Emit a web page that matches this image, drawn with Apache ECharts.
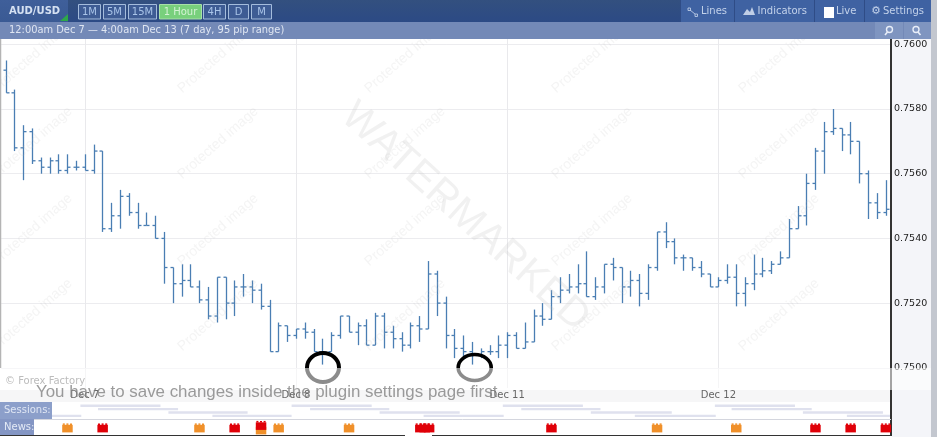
<!DOCTYPE html>
<html><head><meta charset="utf-8">
<style>html,body{margin:0;padding:0;background:#fff}#c{width:937px;height:437px}</style>
<script src="https://cdn.jsdelivr.net/npm/echarts@6/dist/echarts.min.js"></script>
</head><body><div id="c"></div>
<script>
// hourly AUD/USD bars, oldest first
const opens=[0.7592,0.7585,0.7568,0.7573,0.7564,0.7562,0.7564,0.7561,0.7562,0.7562,0.7561,0.7567,0.7543,0.7547,0.7553,0.7548,0.7544,0.7544,0.7540,0.7531,0.7526,0.7527,0.7525,0.7521,0.7516,0.7528,0.7520,0.7525,0.7525,0.7524,0.7519,0.7505,0.7513,0.7510,0.7512,0.7511,0.7505,0.7505,0.7510,0.7516,0.7511,0.7513,0.7507,0.7516,0.7511,0.7509,0.7507,0.7513,0.7512,0.7529,0.7520,0.7510,0.7506,0.7505,0.7504,0.7505,0.7505,0.7507,0.7510,0.7506,0.7508,0.7516,0.7515,0.7522,0.7524,0.7525,0.7526,0.7522,0.7525,0.7532,0.7531,0.7525,0.7527,0.7523,0.7531,0.7542,0.7539,0.7534,0.7534,0.7531,0.7529,0.7525,0.7527,0.7528,0.7523,0.7526,0.7529,0.7530,0.7532,0.7534,0.7543,0.7547,0.7557,0.7567,0.7573,0.7574,0.7572,0.7570,0.7560,0.7551,0.7548];
const highs=[0.7595,0.7586,0.7575,0.7574,0.7565,0.7565,0.7566,0.7566,0.7564,0.7566,0.7569,0.7567,0.7551,0.7555,0.7554,0.7551,0.7548,0.7547,0.7542,0.7531,0.7532,0.7532,0.7527,0.7525,0.7528,0.7528,0.7527,0.7529,0.7527,0.7526,0.7521,0.7514,0.7513,0.7512,0.7514,0.7512,0.7509,0.7511,0.7516,0.7516,0.7514,0.7515,0.7517,0.7517,0.7513,0.7511,0.7514,0.7516,0.7533,0.7530,0.7522,0.7512,0.7510,0.7508,0.7506,0.7507,0.7510,0.7511,0.7511,0.7514,0.7518,0.7520,0.7524,0.7528,0.7529,0.7532,0.7536,0.7528,0.7532,0.7534,0.7531,0.7530,0.7529,0.7532,0.7542,0.7545,0.7540,0.7535,0.7534,0.7533,0.7529,0.7528,0.7532,0.7532,0.7528,0.7535,0.7534,0.7533,0.7536,0.7546,0.7550,0.7560,0.7568,0.7576,0.7580,0.7574,0.7576,0.7570,0.7561,0.7554,0.7558];
const lows=[0.7585,0.7567,0.7558,0.7563,0.7560,0.7560,0.7560,0.7560,0.7561,0.7561,0.7560,0.7542,0.7542,0.7543,0.7547,0.7543,0.7544,0.7540,0.7526,0.7520,0.7522,0.7525,0.7520,0.7515,0.7514,0.7515,0.7516,0.7522,0.7520,0.7518,0.7505,0.7505,0.7508,0.7509,0.7509,0.7505,0.7501,0.7505,0.7509,0.7511,0.7507,0.7507,0.7507,0.7506,0.7506,0.7505,0.7506,0.7508,0.7512,0.7516,0.7506,0.7503,0.7503,0.7501,0.7503,0.7504,0.7503,0.7503,0.7506,0.7506,0.7508,0.7513,0.7515,0.7520,0.7523,0.7523,0.7522,0.7521,0.7523,0.7527,0.7520,0.7522,0.7519,0.7521,0.7530,0.7537,0.7532,0.7530,0.7530,0.7528,0.7525,0.7525,0.7526,0.7519,0.7519,0.7524,0.7528,0.7529,0.7532,0.7534,0.7543,0.7544,0.7555,0.7560,0.7572,0.7567,0.7566,0.7557,0.7546,0.7546,0.7547];
const closes=[0.7585,0.7568,0.7573,0.7564,0.7562,0.7564,0.7561,0.7562,0.7562,0.7561,0.7567,0.7543,0.7547,0.7553,0.7548,0.7544,0.7544,0.7540,0.7531,0.7526,0.7527,0.7525,0.7521,0.7516,0.7528,0.7520,0.7525,0.7525,0.7524,0.7519,0.7505,0.7513,0.7510,0.7512,0.7511,0.7505,0.7505,0.7510,0.7516,0.7511,0.7513,0.7507,0.7516,0.7511,0.7509,0.7507,0.7513,0.7512,0.7529,0.7520,0.7510,0.7506,0.7505,0.7504,0.7505,0.7505,0.7507,0.7510,0.7506,0.7508,0.7516,0.7515,0.7522,0.7524,0.7525,0.7526,0.7522,0.7525,0.7532,0.7531,0.7525,0.7527,0.7523,0.7531,0.7542,0.7539,0.7534,0.7534,0.7531,0.7529,0.7525,0.7527,0.7528,0.7523,0.7526,0.7529,0.7530,0.7532,0.7534,0.7543,0.7547,0.7557,0.7567,0.7573,0.7574,0.7572,0.7570,0.7560,0.7551,0.7548,0.7549];
const priceTicks=[0.7500,0.7520,0.7540,0.7560,0.7580,0.7600];
const dayTickHours=[9,33,57,81];
const dayTickLabels=['Dec 7','Dec 8','Dec 11','Dec 12'];
// sessions: [start hour, end hour, row]
const sessionStarts=[-0.5,8.5,10.5,18.5,23.5,32.5,34.6,42.5,47.5,56.5,58.6,66.5,71.5,80.6,82.5,90.6,95.6];
const sessionEnds=[8.6,17.6,19.6,27.5,32.5,41.6,43.6,51.6,56.6,65.6,67.6,75.7,80.7,89.7,91.6,99.7,100.5];
const sessionRows=[3,0,1,2,3,0,1,2,3,0,1,2,3,0,1,2,3];
// news: hour, impact, vertical lift
const newsHours=[7,11,22,26,31,29,29,39,47.1,47.6,48.1,62,74,83,92,96,100];
const newsImpact=['med','high','med','high','med','med','high','med','high','high','high','high','med','med','high','high','high'];
const newsLift=[0,0,0,0,0,-2,2.5,0,0,0,0,0,0,0,0,0,0];

const ohlc=opens.map((o,i)=>[i,o,highs[i],lows[i],closes[i]]);
const sess=sessionStarts.map((s,i)=>[s,sessionEnds[i],sessionRows[i]]);
const news=newsHours.map((h,i)=>[h,0.5,newsImpact[i]==='high'?1:0,newsLift[i]]);

const BAR='#4a7eb3';
function renderBar(p,api){
  const i=api.value(0),x=Math.round(api.coord([i,0.75])[0])+0.5;
  const yo=api.coord([i,api.value(1)])[1],yh=api.coord([i,api.value(2)])[1],
        yl=api.coord([i,api.value(3)])[1],yc=api.coord([i,api.value(4)])[1];
  const st={stroke:BAR,lineWidth:1.3};
  return {type:'group',children:[
    {type:'line',shape:{x1:x,y1:yh,x2:x,y2:yl},style:st},
    {type:'line',shape:{x1:x-3,y1:yo,x2:x,y2:yo},style:st},
    {type:'line',shape:{x1:x,y1:yc,x2:x+3,y2:yc},style:st}
  ]};
}
function renderSession(p,api){
  const a=api.coord([api.value(0),api.value(2)+0.5]),b=api.coord([api.value(1),api.value(2)+0.5]);
  return {type:'rect',shape:{x:a[0],y:a[1]-1.2,width:b[0]-a[0],height:2.4},style:{fill:'#dfe1ee'}};
}
function renderNews(p,api){
  const c=api.coord([api.value(0),api.value(1)]),hi=api.value(2)===1,lift=api.value(3);
  const x=c[0]-5,y=c[1]-3-lift,f=hi?'#e00008':'#f0902a',kids=[];
  kids.push({type:'rect',shape:{x:x,y:y,width:10.5,height:7.6},style:{fill:f}});
  [0.6,4.2,7.8].forEach(d=>kids.push({type:'rect',shape:{x:x+d,y:y-1.4,width:2,height:1.5},style:{fill:f}}));
  return {type:'group',children:kids};
}

const SANS='"DejaVu Sans"';
const g=[];
function rect(x,y,w,h,fill,z){g.push({type:'rect',z:z,silent:true,shape:{x,y,width:w,height:h},style:{fill}});}
function txt(s,x,y,size,fill,z,extra){g.push(Object.assign({type:'text',z:z,silent:true,x,y,style:{text:s,fill,font:size+'px '+SANS,textVerticalAlign:'middle'}},extra||{}));}
function ln(x1,y1,x2,y2,stroke,w,z){g.push({type:'line',z:z,silent:true,shape:{x1,y1,x2,y2},style:{stroke,lineWidth:w}});}
const grad=(a,b)=>({type:'linear',x:0,y:0,x2:0,y2:1,colorStops:[{offset:0,color:a},{offset:1,color:b}]});

// underlays
rect(892,39,39,398,'#f4f5f9',-1);
rect(0,390,891,12,'#f6f6f7',-1);
// watermarks
[32,218,405,592,779].forEach(x=>[57,143,230,315].forEach(y=>{
  g.push({type:'text',z:10,silent:true,x,y,rotation:0.72,style:{text:'Protected image',fill:'rgba(190,190,190,0.17)',font:'14px "Liberation Sans"',textAlign:'center',textVerticalAlign:'middle'}});
}));
g.push({type:'text',z:10,silent:true,x:465,y:217,rotation:-0.735,style:{text:'WATERMARKED',fill:'rgba(190,190,190,0.22)',font:'41px "Liberation Sans"',textAlign:'center',textVerticalAlign:'middle'}});
// circles
g.push({type:'ellipse',z:15,silent:true,shape:{cx:323,cy:367.5,rx:16,ry:14.5},style:{fill:'none',stroke:'#000',lineWidth:4}});
g.push({type:'ellipse',z:15,silent:true,shape:{cx:474.7,cy:367.5,rx:16.5,ry:13},style:{fill:'none',stroke:'#000',lineWidth:3.6}});
// translucent band
rect(0,368,931,22,'rgba(255,255,255,0.55)',20);
txt('© Forex Factory',5,381,10,'#bcbcbc',21);
g.push({type:'text',z:22,silent:true,x:36,y:392.5,style:{text:'You have to save changes inside the plugin settings page first',fill:'rgba(130,130,130,0.8)',font:'16.9px "Liberation Sans"',textVerticalAlign:'middle'}});
// frame
ln(0.5,39,0.5,368,'#b4b4b4',1.5,5);
ln(891,388,891,436,'#333',2,5);
ln(34,419.5,891,419.5,'#d4d6de',1,5);
ln(0,435.5,405,435.5,'#333',1,5);
ln(432,435.5,891,435.5,'#333',1,5);
// side labels
rect(0,402,52,17,'#8c9fca',6);
rect(0,419,34,16,'#8496c4',6);
txt('Sessions:',4,410.5,10,'#dfe6f4',7);
txt('News:',4,427,10,'#e4eaf6',7);
// header
rect(0,0,931,22,grad('#33507f','#2c4a85'),30);
rect(0,22,931,17,'#7389b7',30);
rect(0,0,68,22,grad('#3f5f9a','#3a5a94'),31);
g.push({type:'polygon',z:32,silent:true,shape:{points:[[68,14],[68,21],[60,21]]},style:{fill:'#2ea84a'}});
g.push({type:'text',z:32,silent:true,x:9,y:11.5,style:{text:'AUD/USD',fill:'#d5e1f2',font:'bold 10px '+SANS,textVerticalAlign:'middle'}});
[['1M',78,22],['5M',103,22],['15M',128,28],['1 Hour',159,42],['4H',203,22],['D',228,20],['M',251,20]].forEach(b=>{
  const on=b[0]==='1 Hour';
  g.push({type:'rect',z:32,silent:true,shape:{x:b[1]+0.5,y:4.5,width:b[2],height:14.5},style:{fill:on?'#78d07c':'#3e5c94',stroke:on?'#a8e0a8':'#a4bcdc',lineWidth:1}});
  g.push({type:'text',z:33,silent:true,x:b[1]+b[2]/2+0.5,y:12,style:{text:b[0],fill:on?'#d4f2d4':'#a9c4e8',font:'10px '+SANS,textAlign:'center',textVerticalAlign:'middle'}});
});
rect(680,0,251,22,grad('#3f62a2','#3f62a2'),31);
[680,734,814,864].forEach(x=>ln(x+0.5,0,x+0.5,22,'#2f4c86',1,32));
// Lines icon
g.push({type:'rect',z:33,silent:true,shape:{x:688,y:8,width:2.5,height:2.5},style:{stroke:'#c8d6ec',fill:'none',lineWidth:0.8}});
g.push({type:'rect',z:33,silent:true,shape:{x:695,y:14,width:2.5,height:2.5},style:{stroke:'#c8d6ec',fill:'none',lineWidth:0.8}});
ln(690,10,695,14,'#c8d6ec',0.8,33);
txt('Lines',701,11.5,10,'#c3d2ea',33);
g.push({type:'polygon',z:33,silent:true,shape:{points:[[743,15],[747,9],[750,12],[752,7],[755,15]]},style:{fill:'#c0cee6'}});
txt('Indicators',757.5,11.5,10,'#c3d2ea',33);
rect(824,7,10,11,'#ffffff',33);
txt('Live',836,11.5,10,'#c3d2ea',33);
g.push({type:'text',z:33,silent:true,x:871,y:11.5,style:{text:'⚙',fill:'#c3d2ea',font:'11px '+SANS,textVerticalAlign:'middle'}});
txt('Settings',883,11.5,10,'#c3d2ea',33);
// range row
txt('12:00am Dec 7 — 4:00am Dec 13 (7 day, 95 pip range)',9,30.5,9.9,'#dfe6f2',33);
rect(875,22,28,17,'#7f95c0',31);
rect(904,22,27,17,'#7f95c0',31);
g.push({type:'circle',z:33,silent:true,shape:{cx:889.5,cy:29.5,r:3},style:{fill:'none',stroke:'#e8eef8',lineWidth:1.4}});
ln(887.5,32,885,35,'#e8eef8',1.6,33);
g.push({type:'circle',z:33,silent:true,shape:{cx:916,cy:29.5,r:3},style:{fill:'none',stroke:'#e8eef8',lineWidth:1.4}});
ln(918,32,920.5,35,'#e8eef8',1.6,33);
// right margin
rect(931,0,6,437,'#c3c7cf',40);

const chart=echarts.init(document.getElementById('c'),null,{renderer:'canvas'});
const GL=1.2,GW=888.8;
chart.setOption({
  animation:false,backgroundColor:'#fff',
  grid:[
    {left:GL,top:39,width:GW+1,height:349,containLabel:false},
    {left:GL,top:404,width:GW,height:13.6},
    {left:GL,top:420,width:GW,height:15.6}
  ],
  xAxis:[
    {type:'value',gridIndex:0,min:-0.5,max:100.614,
     axisLine:{show:false},
     axisTick:{show:false,customValues:dayTickHours},
     axisLabel:{customValues:dayTickHours,margin:2,color:'#666',fontFamily:'DejaVu Sans',fontSize:10,
       formatter:v=>dayTickLabels[dayTickHours.indexOf(v)]},
     splitLine:{show:true,lineStyle:{color:'#e9e9ec',width:1}}},
    {type:'value',gridIndex:1,min:-0.5,max:100.5,show:false},
    {type:'value',gridIndex:2,min:-0.5,max:100.5,show:false}
  ],
  yAxis:[
    {type:'value',gridIndex:0,position:'right',min:0.749376,max:0.760164,
     axisLine:{show:true,onZero:false,lineStyle:{color:'#333',width:2}},
     axisTick:{show:false,customValues:priceTicks},
     axisLabel:{customValues:priceTicks,margin:3,color:'#222',fontFamily:'DejaVu Sans',fontSize:9.5,
       formatter:v=>v.toFixed(4)},
     splitLine:{show:true,lineStyle:{color:'#ececef',width:1}}},
    {type:'value',gridIndex:1,min:0,max:4,inverse:true,show:false},
    {type:'value',gridIndex:2,min:0,max:1,show:false}
  ],
  series:[
    {type:'custom',xAxisIndex:0,yAxisIndex:0,z:5,clip:false,renderItem:renderBar,data:ohlc,encode:{x:0,y:[1,2,3,4]}},
    {type:'custom',xAxisIndex:1,yAxisIndex:1,z:5,renderItem:renderSession,data:sess,encode:{x:[0,1],y:2}},
    {type:'custom',xAxisIndex:2,yAxisIndex:2,z:5,clip:false,renderItem:renderNews,data:news,encode:{x:0,y:1}}
  ],
  graphic:{elements:g}
});
</script></body></html>
